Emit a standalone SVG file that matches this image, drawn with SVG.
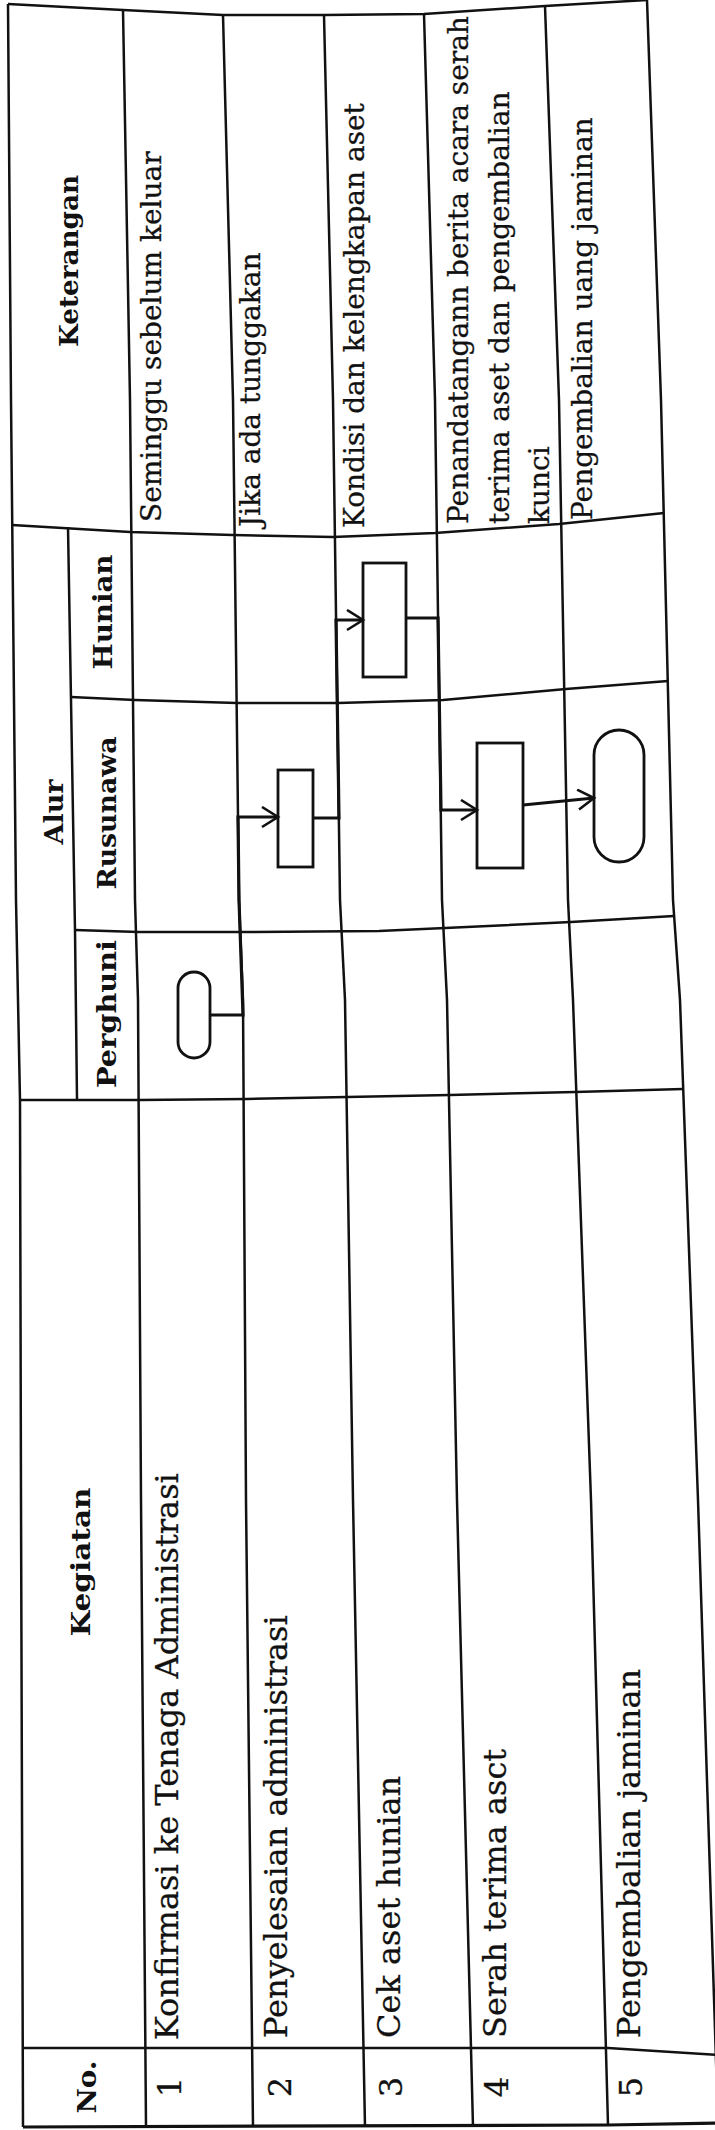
<svg xmlns="http://www.w3.org/2000/svg" width="715" height="2130" viewBox="0 0 715 2130">
<defs>
<style>
.grid{fill:none;stroke:#111;stroke-width:2.5;stroke-linejoin:round}
.hdr{font-family:"DejaVu Serif","Liberation Serif",serif;font-weight:bold;font-size:26px;fill:#111}
.cell{font-family:"DejaVu Serif","Liberation Serif",serif;font-size:32px;fill:#111;stroke:#111;stroke-width:0.3}
.ket{font-family:"DejaVu Serif","Liberation Serif",serif;font-size:28px;fill:#111;stroke:#111;stroke-width:0.3}
.shape{fill:none;stroke:#111;stroke-width:2.8}
.conn{fill:none;stroke:#111;stroke-width:3.2;stroke-linejoin:miter}
</style>
<marker id="arr" markerUnits="userSpaceOnUse" markerWidth="20" markerHeight="24" refX="17" refY="11" orient="auto">
<path d="M1,1 L17,11 L1,21" fill="none" stroke="#111" stroke-width="2.6"/>
</marker>
</defs>
<rect width="715" height="2130" fill="#fff"/>
<g id="table-grid" class="grid">
<path d="M8,4 L11,400 L16,900 L20,1100 L21,1500 L23,2127"/>
<path d="M123,10 L130,400 L135,900 L138,1000 L141,1500 L146,2127"/>
<path d="M223,15 L233,400 L239,900 L243,1000 L246,1500 L253,2127"/>
<path d="M324,15 L333,400 L340,900 L345,1000 L353,1500 L365,2127"/>
<path d="M424,14 L435,400 L442,900 L447,1000 L457,1500 L473,2127"/>
<path d="M545,6 L559,400 L568,900 L573,1000 L591,1500 L608,2125"/>
<path d="M647,0 L661,400 L673,900 L680,1000 L698,1500 L718,2123"/>
<path d="M68,527 L71,700 L75,930 L77,1099"/>
<path d="M8,4 L123,10 L223,15 L324,15 L424,14 L545,6 L647,0"/>
<path d="M12,525 L130,532 L233,535 L333,537 L435,533 L559,524 L664,513"/>
<path d="M71,697 L135,700 L237,703 L338,703 L443,700 L566,689 L668,681"/>
<path d="M75,930 L139,932 L247,932 L379,931 L445,928 L571,922 L674,916"/>
<path d="M20,1100 L139,1100 L247,1099 L347,1097 L450,1095 L575,1092 L683,1089"/>
<path d="M23,2048 L146,2048 L608,2048 L717,2055"/>
<path d="M23,2127 L608,2125 L718,2123" stroke-width="3.2"/>
</g>
<g id="headers" class="hdr" text-anchor="middle">
<text transform="translate(78,261) rotate(-90)" textLength="172" lengthAdjust="spacingAndGlyphs">Keterangan</text>
<text transform="translate(63,812) rotate(-90)" textLength="65" lengthAdjust="spacingAndGlyphs">Alur</text>
<text transform="translate(112,612) rotate(-90)" textLength="115" lengthAdjust="spacingAndGlyphs">Hunian</text>
<text transform="translate(116,813) rotate(-90)" textLength="153" lengthAdjust="spacingAndGlyphs">Rusunawa</text>
<text transform="translate(116,1014) rotate(-90)" textLength="148" lengthAdjust="spacingAndGlyphs">Perghuni</text>
<text transform="translate(90,1562) rotate(-90)" textLength="149" lengthAdjust="spacingAndGlyphs">Kegiatan</text>
<text transform="translate(96,2087) rotate(-90)" textLength="53" lengthAdjust="spacingAndGlyphs">No.</text>
</g>
<g id="row-numbers" class="cell" text-anchor="middle">
<text transform="translate(181,2087) rotate(-90)">1</text>
<text transform="translate(291,2087) rotate(-90)">2</text>
<text transform="translate(402,2087) rotate(-90)">3</text>
<text transform="translate(508,2087) rotate(-90)">4</text>
<text transform="translate(642,2087) rotate(-90)">5</text>
</g>
<g id="kegiatan" class="cell">
<text transform="translate(178,2040) rotate(-90)">Konfirmasi ke Tenaga Administrasi</text>
<text transform="translate(287,2038) rotate(-90)">Penyelesaian administrasi</text>
<text transform="translate(400,2038) rotate(-90)">Cek aset hunian</text>
<text transform="translate(506,2038) rotate(-90)">Serah terima asct</text>
<text transform="translate(640,2038) rotate(-90)">Pengembalian jaminan</text>
</g>
<g id="keterangan" class="ket">
<text transform="translate(161,522) rotate(-90)">Seminggu sebelum keluar</text>
<text transform="translate(260,527) rotate(-90)">Jika ada tunggakan</text>
<text transform="translate(364,528) rotate(-90)">Kondisi dan kelengkapan aset</text>
<text transform="translate(468,524) rotate(-90)">Penandatangann berita acara serah</text>
<text transform="translate(509,524) rotate(-90)">terima aset dan pengembalian</text>
<text transform="translate(549,524) rotate(-90)">kunci</text>
<text transform="translate(592,520) rotate(-90)">Pengembalian uang jaminan</text>
</g>
<g id="node-start-perghuni"><rect class="shape" x="178" y="972" width="32" height="86" rx="16"/></g>
<g id="node-admin-rusunawa"><rect class="shape" x="278" y="770" width="35" height="97"/></g>
<g id="node-cek-hunian"><rect class="shape" x="363" y="563" width="43" height="114"/></g>
<g id="node-serah-rusunawa"><rect class="shape" x="477" y="743" width="46" height="125"/></g>
<g id="node-end-rusunawa"><rect class="shape" x="594" y="730" width="50" height="132" rx="25"/></g>
<g id="connectors" class="conn">
<path d="M210,1015 L243,1015 L239,900 L238,817 L278,817" marker-end="url(#arr)"/>
<path d="M313,818 L339,818 L336,620 L363,620" marker-end="url(#arr)"/>
<path d="M406,618 L438,618 L441,810 L477,810" marker-end="url(#arr)"/>
<path d="M523,805 L594,798" marker-end="url(#arr)"/>
</g>
</svg>
